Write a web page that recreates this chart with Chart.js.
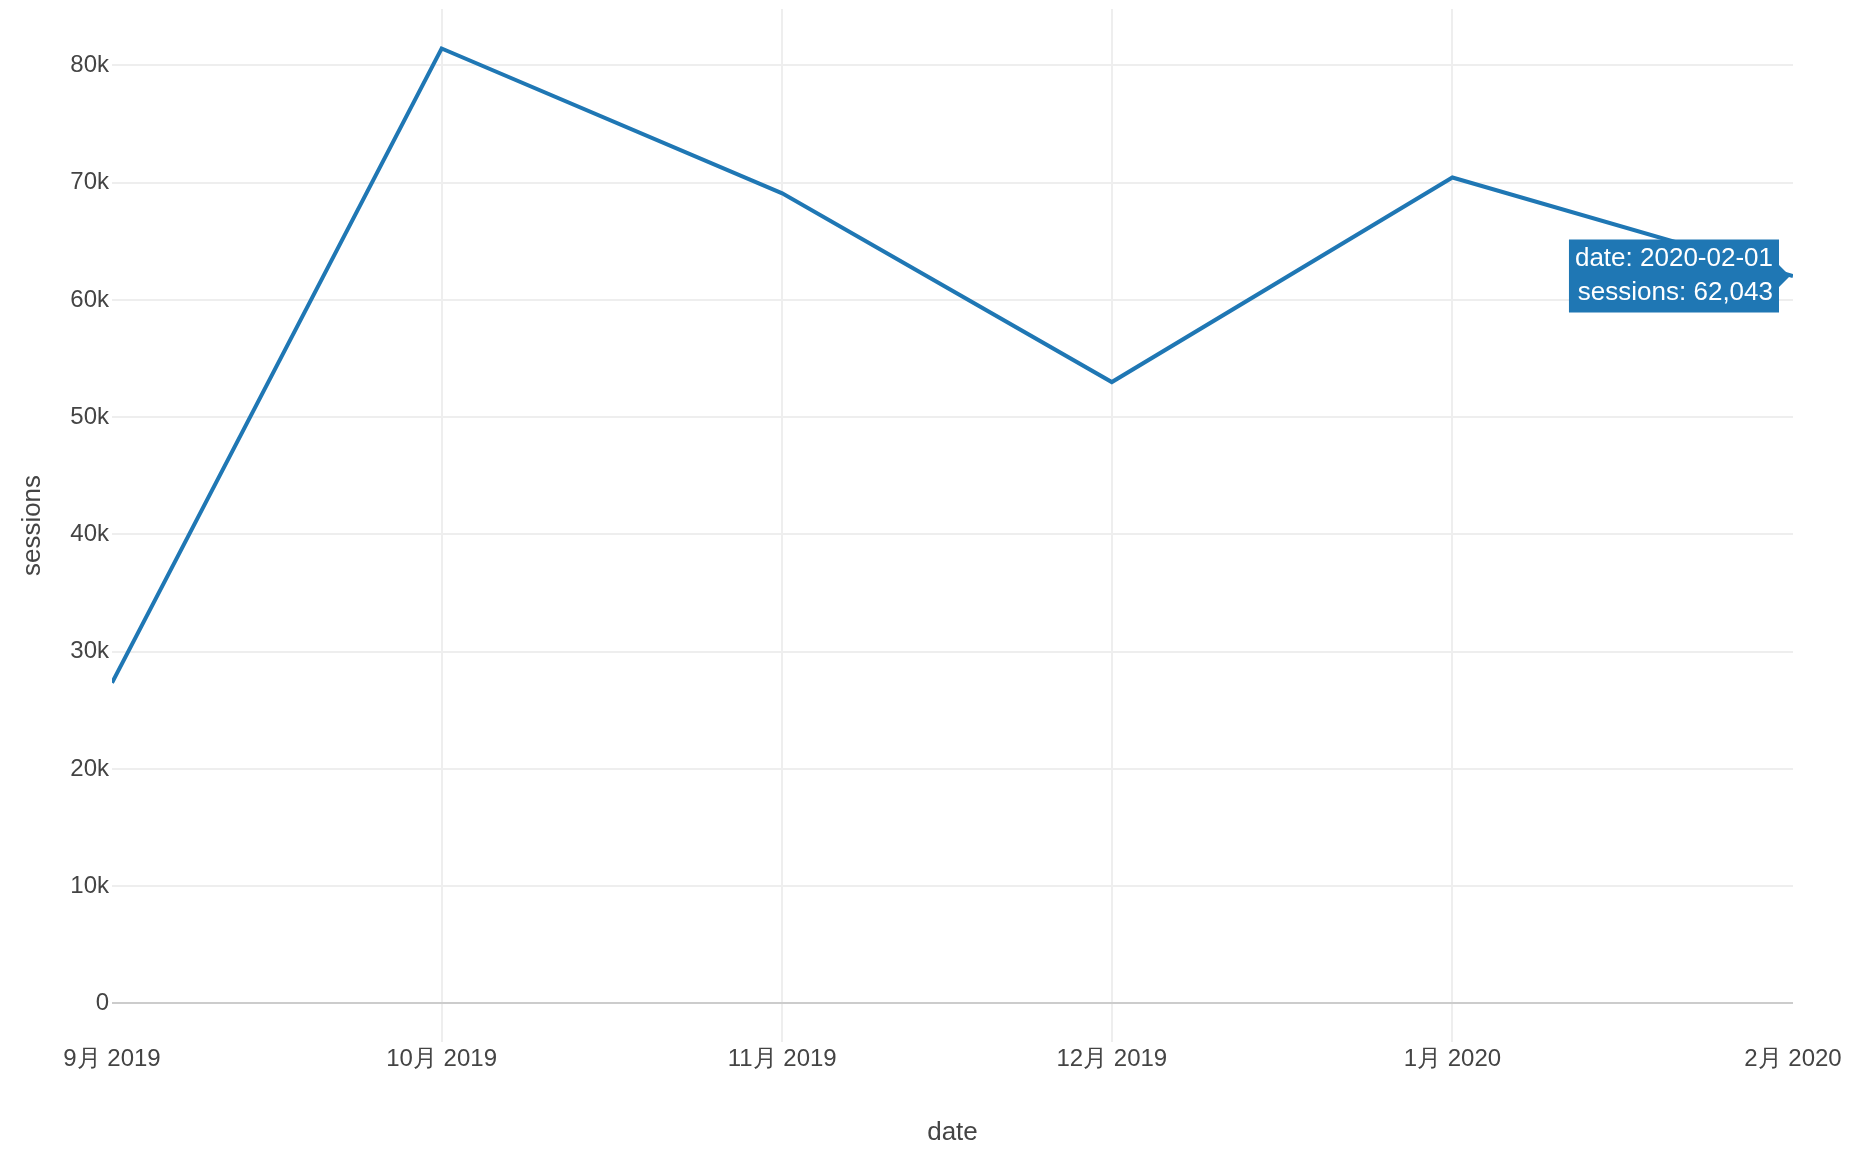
<!DOCTYPE html>
<html>
<head>
<meta charset="utf-8">
<title>sessions by month</title>
<script src="https://cdn.jsdelivr.net/npm/chart.js@4"></script>
<style>
  html, body { margin: 0; padding: 0; background: #fff; }
  #wrap { width: 1868px; height: 1158px; }
</style>
</head>
<body>
<div id="wrap"><canvas id="sessionsChart" width="1868" height="1158"></canvas></div>
<script>
// data
const months = ['2019-09-01', '2019-10-01', '2019-11-01', '2019-12-01', '2020-01-01', '2020-02-01'];
const sessions = [27350, 81450, 69100, 53000, 70450, 62043];
const monthTickLabels = ['9月 2019', '10月 2019', '11月 2019', '12月 2019', '1月 2020', '2月 2020'];
const yTickValues = [0, 10000, 20000, 30000, 40000, 50000, 60000, 70000, 80000];
const hoverIndex = 5;

const toTime = (s) => Date.parse(s + 'T00:00:00Z');
const monthTimes = months.map(toTime);

const textColor = '#444';
const fontFamily = '"Liberation Sans", Arial, Helvetica, sans-serif';

const ctx = document.getElementById('sessionsChart');

const chart = new Chart(ctx, {
  type: 'line',
  data: {
    datasets: [{
      label: 'sessions',
      data: monthTimes.map((t, i) => ({ x: t, y: sessions[i] })),
      borderColor: '#1f77b4',
      backgroundColor: '#1f77b4',
      borderWidth: 4,
      pointRadius: 0,
      pointHoverRadius: 0,
      tension: 0,
      fill: false
    }]
  },
  options: {
    responsive: false,
    maintainAspectRatio: false,
    animation: false,
    events: [],
    layout: { padding: { left: 0, right: 75, top: 9, bottom: 0 } },
    plugins: {
      legend: { display: false },
      tooltip: {
        enabled: true,
        xAlign: 'right',
        yAlign: 'center',
        backgroundColor: '#1f77b4',
        bodyColor: '#fff',
        bodyFont: { family: fontFamily, size: 26, lineHeight: 1.33 },
        bodyAlign: 'right',
        bodySpacing: 0,
        padding: { top: 2, bottom: 2, left: 6, right: 6 },
        cornerRadius: 0,
        caretSize: 11,
        caretPadding: 3,
        displayColors: false,
        borderWidth: 0,
        callbacks: {
          title: () => '',
          label: (c) => [
            'date: ' + months[c.dataIndex],
            'sessions: ' + sessions[c.dataIndex].toLocaleString('en-US')
          ]
        }
      }
    },
    scales: {
      x: {
        type: 'linear',
        min: monthTimes[0],
        max: monthTimes[monthTimes.length - 1],
        afterBuildTicks: (scale) => {
          scale.ticks = monthTimes.map(t => ({ value: t }));
        },
        afterFit: (scale) => {
          scale.height = 116;
          scale.paddingLeft = 0;
          scale.paddingRight = 0;
        },
        ticks: {
          color: textColor,
          font: { family: fontFamily, size: 24 },
          padding: 3,
          maxRotation: 0,
          autoSkip: false,
          callback: (value) => {
            const i = monthTimes.indexOf(value);
            return i >= 0 ? monthTickLabels[i] : '';
          }
        },
        grid: {
          // no grid line on the plot's left and right edges
          color: (c) => (c.index === 0 || c.index === monthTimes.length - 1) ? 'rgba(0,0,0,0)' : '#eeeeee',
          lineWidth: 2,
          drawTicks: false
        },
        border: { display: false },
        title: {
          display: true,
          text: 'date',
          color: textColor,
          font: { family: fontFamily, size: 26 },
          padding: { top: 0, bottom: 10 }
        }
      },
      y: {
        min: -3284,
        max: 84818,
        afterBuildTicks: (scale) => {
          scale.ticks = yTickValues.map(v => ({ value: v }));
        },
        afterFit: (scale) => {
          scale.width = 112;
          scale.paddingTop = 0;
          scale.paddingBottom = 0;
        },
        ticks: {
          color: textColor,
          font: { family: fontFamily, size: 24 },
          padding: 3,
          callback: (value) => value === 0 ? '0' : (value / 1000) + 'k'
        },
        grid: {
          color: (c) => (c.tick && c.tick.value === 0) ? '#cccccc' : '#eeeeee',
          lineWidth: 2,
          drawTicks: false
        },
        border: { display: false },
        title: {
          display: true,
          text: 'sessions',
          color: textColor,
          font: { family: fontFamily, size: 26 },
          padding: { top: 17, bottom: 0 }
        }
      }
    }
  }
});

// show the hover label on the last month, as in the reference
const meta = chart.getDatasetMeta(0);
const pt = meta.data[hoverIndex];
chart.tooltip.setActiveElements([{ datasetIndex: 0, index: hoverIndex }], { x: pt.x, y: pt.y });
chart.update('none');
</script>
</body>
</html>
